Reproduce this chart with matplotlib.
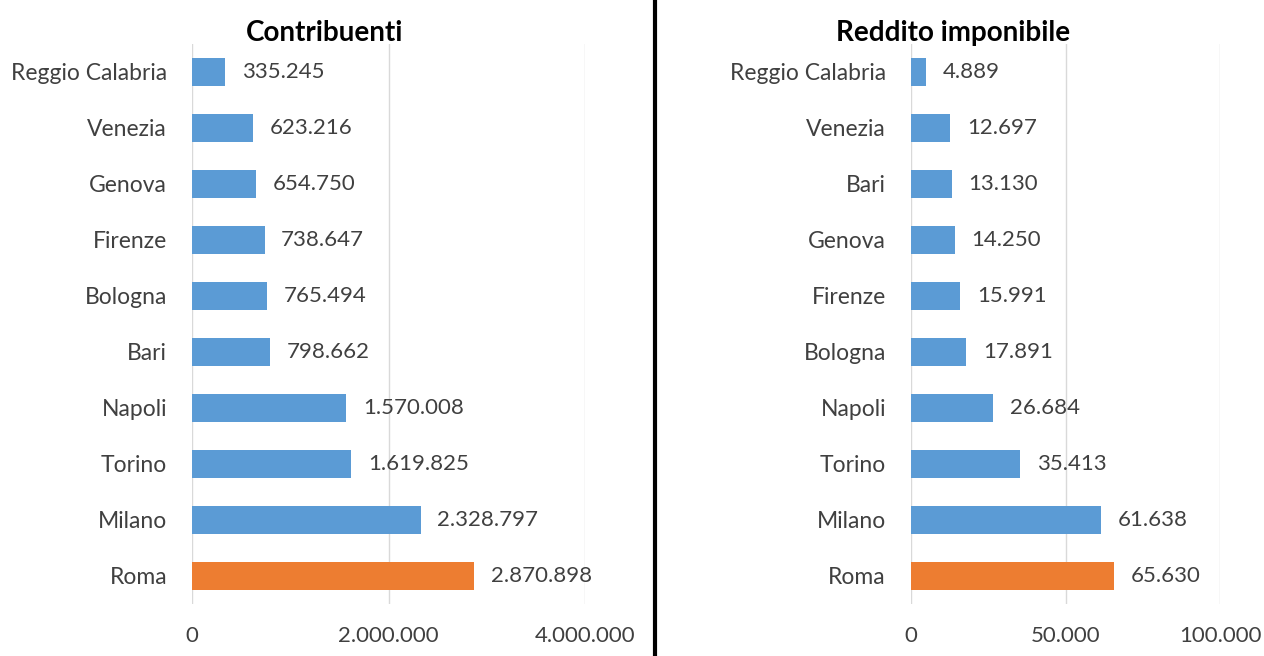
import numpy as np
import matplotlib.pyplot as plt

# -----data-----
cities_left = ["Roma", "Milano", "Torino", "Napoli", "Bari", "Bologna",
               "Firenze", "Genova", "Venezia", "Reggio Calabria"]
contribuenti = [2870898, 2328797, 1619825, 1570008, 798662, 765494,
                738647, 654750, 623216, 335245]

cities_right = ["Roma", "Milano", "Torino", "Napoli", "Bologna", "Firenze",
                "Genova", "Bari", "Venezia", "Reggio Calabria"]
reddito = [65630, 61638, 35413, 26684, 17891, 15991, 14250, 13130, 12697, 4889]

left_ticks = [0, 2000000, 4000000]
right_ticks = [0, 50000, 100000]
# ------------

blue = "#5B9BD5"
orange = "#ED7D31"
grey_text = "#404040"

plt.rcParams['font.family'] = ['Lato', 'DejaVu Sans']


def fmt(v):
    return f"{v:,}".replace(",", ".")


def draw(ax, cities, values, ticks):
    y = np.arange(len(cities))
    colors = [orange if c == "Roma" else blue for c in cities]
    bars = ax.barh(y, values, height=0.5, color=colors, zorder=3)
    ax.bar_label(bars, labels=[fmt(v) for v in values], padding=12,
                 fontsize=16, color=grey_text)
    ax.set_yticks(y)
    ax.set_yticklabels(cities, fontsize=16.5, color=grey_text)
    ax.set_ylim(-0.5, len(cities) - 0.5)
    ax.set_xlim(ticks[0], ticks[-1])
    ax.set_xticks(ticks)
    ax.set_xticklabels([fmt(t) for t in ticks], fontsize=16, color=grey_text)
    ax.grid(axis='x', color="#D9D9D9", linewidth=1, zorder=0)
    ax.tick_params(axis='y', length=0, pad=18)
    ax.tick_params(axis='x', length=0, pad=16)
    for s in ax.spines.values():
        s.set_visible(False)


fig = plt.figure(figsize=(12.64, 6.56), dpi=100)
H = 656.0
W = 1264.0
ax1 = fig.add_axes([192 / W, (656 - 604) / H, (585 - 192) / W, 560 / H])
ax2 = fig.add_axes([911 / W, (656 - 604) / H, (1220 - 911) / W, 560 / H])

draw(ax1, cities_left, contribuenti, left_ticks)
draw(ax2, cities_right, reddito, right_ticks)

fig.text(325 / W, 1 - 33 / H, "Contribuenti", ha='center', va='center',
         fontsize=20, fontweight='bold')
fig.text(953 / W, 1 - 33 / H, "Reddito imponibile", ha='center', va='center',
         fontsize=20, fontweight='bold')

# separator line between the two panels
fig.add_artist(plt.Line2D([655 / W, 655 / W], [0, 1], color='black', linewidth=3))

fig.savefig("out.png", dpi=100)
